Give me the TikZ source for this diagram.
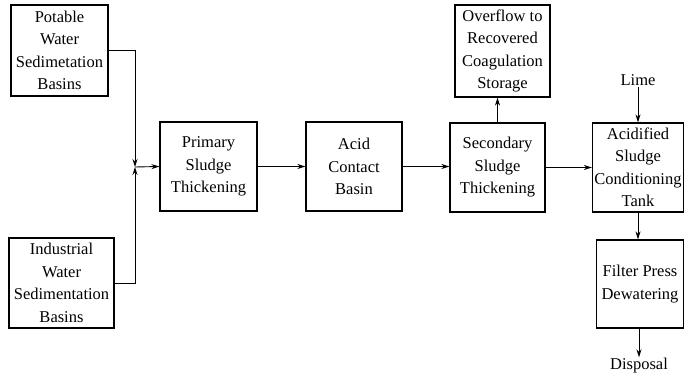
\documentclass[tikz,border=0pt]{standalone}
\usepackage{fontspec}
\setmainfont{Liberation Serif}
\usepackage{tikz}
\usetikzlibrary{arrows.meta, positioning}

\tikzset{
  procbox/.style={draw, line width=1.2pt, inner sep=0pt, align=center,
    font=\fontsize{16.5}{22.5}\selectfont},
  flowarrow/.style={line width=0.9pt, -{Stealth[length=8pt, width=5pt]}},
  flowlabel/.style={inner sep=1pt, font=\fontsize{16.5}{22.5}\selectfont}
}

\begin{document}
\begin{tikzpicture}[x=1pt, y=-1pt]
    \useasboundingbox (0,0) rectangle (685,387);

    % source basins
    \node[procbox, minimum width=97pt, minimum height=91pt] (potable) at (59.5,50.5) {Potable\\Water\\Sedimetation\\Basins};
    \node[procbox, minimum width=105pt, minimum height=90pt] (industrial) at (61.5,283) {Industrial\\Water\\Sedimentation\\Basins};

    % main line
    \node[procbox, minimum width=97pt, minimum height=89pt] (primary) at (208.5,166.5) {Primary\\Sludge\\Thickening};
    \node[procbox, minimum width=96pt, minimum height=89pt] (acid) at (354,166.5) {Acid\\Contact\\Basin};
    \node[procbox, minimum width=95pt, minimum height=89pt] (secondary) at (497.5,167.5) {Secondary\\Sludge\\Thickening};
    \node[procbox, minimum width=95pt, minimum height=92pt] (overflow) at (502.5,51) {Overflow to\\Recovered\\Coagulation\\Storage};
    \node[procbox, minimum width=91pt, minimum height=89pt] (acidified) at (638,167.5) {Acidified\\Sludge\\Conditioning\\Tank};
    \node[procbox, minimum width=87pt, minimum height=88pt] (filter) at (640,284) {Filter Press\\Dewatering};

    % free labels
    \node[flowlabel] (lime) at (638,80) {Lime};
    \node[flowlabel] (disposal) at (639,366) {Disposal};

    % junction of the two basins
    \coordinate (junc) at (135,167);
    \draw[flowarrow] (potable.east) -| (junc);
    \draw[flowarrow] (industrial.east) -| (junc);
    \draw[flowarrow] (junc) -- (primary.west);

    % connectors
    \draw[flowarrow] (primary) -- (acid);
    \draw[flowarrow] (acid.east) -- (acid.east -| secondary.west);
    \draw[flowarrow] (secondary.north) -- (secondary.north |- overflow.south);
    \draw[flowarrow] (secondary.east) -- (secondary.east -| acidified.west);
    \draw[flowarrow] (lime) -- (acidified.north);
    \draw[flowarrow] (acidified.south) -- (acidified.south |- filter.north);
    \draw[flowarrow] (filter.south -| disposal) -- (disposal);
\end{tikzpicture}
\end{document}
